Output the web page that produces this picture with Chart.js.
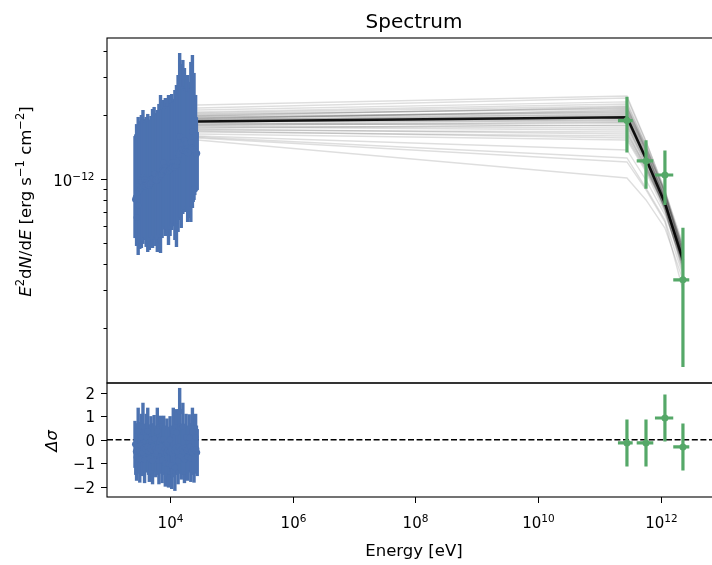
<!DOCTYPE html>
<html>
<head>
<meta charset="utf-8">
<title>Spectrum</title>
<script src="https://cdn.jsdelivr.net/npm/chart.js@4.4.0/dist/chart.umd.min.js"></script>
<style>
  html, body { margin: 0; padding: 0; background: #fff; overflow: hidden; }
  #wrap { position: relative; width: 712px; height: 565px; overflow: hidden; }
  #wrap canvas { position: absolute; left: 0; top: 0; }
</style>
</head>
<body>
<div id="wrap">
  <canvas id="sedChart" width="730" height="565"></canvas>
  <canvas id="resChart" width="730" height="565"></canvas>
</div>
<script>
// Fluxes below are in units of 1e-12 erg s^-1 cm^-2, energies in eV
const FLUX_UNIT = 1e-12;

// X-ray spectrum (two interleaved sets of channels)
const xrayEnergy = [2692, 2858, 3034, 3221, 3420, 3631, 3855, 4093, 4345, 4613,
    4898, 5200, 5521, 5861, 6223, 6607, 7015, 7447, 7907, 8395,
    8913, 9462, 10046, 10666, 11324, 12023, 12764, 13552, 14388, 15276,
    16218, 17219, 18281, 19409, 20606, 21878, 23227, 24660, 26182, 27797,
    2773, 2944, 3126, 3319, 3524, 3741, 3972, 4217, 4477, 4753,
    5047, 5358, 5689, 6039, 6412, 6808, 7228, 7674, 8147, 8650,
    9183, 9750, 10351, 10990, 11668, 12388, 13152, 13964, 14825, 15740,
    16711, 17742, 18836, 19999, 21232, 22542, 23933, 25410, 26977];
const xrayFlux = [0.80, 0.66, 0.75, 0.937, 0.974, 1.022, 0.994, 0.968, 0.958, 0.932,
    0.995, 1.005, 1.061, 0.994, 0.979, 1.056, 1.056, 1.096, 1.195, 1.138,
    1.126, 1.102, 1.126, 1.202, 1.202, 1.163, 1.151, 1.317, 1.583, 1.429,
    1.575, 1.524, 1.468, 1.390, 1.368, 1.492, 1.671, 0.90, 1.60, 1.32,
    0.82, 0.86, 0.88, 0.90, 0.92, 0.93, 0.92, 0.94, 0.93, 0.95,
    0.97, 1.00, 0.99, 0.98, 1.01, 1.03, 1.05, 1.08, 1.10, 1.09,
    1.08, 1.10, 1.12, 1.14, 1.13, 1.15, 1.20, 1.30, 1.35, 1.38,
    1.36, 1.35, 1.33, 1.32, 1.36, 1.40, 1.38, 1.35, 1.30];
const xrayLow = [0.528, 0.4846, 0.4396, 0.469, 0.4744, 0.4955, 0.517, 0.4796, 0.4542, 0.4642,
    0.501, 0.4744, 0.517, 0.4846, 0.4542, 0.4955, 0.4493, 0.528, 0.608, 0.540,
    0.5638, 0.490, 0.540, 0.5762, 0.608, 0.517, 0.4796, 0.5638, 0.642, 0.5888,
    0.685, 0.700, 0.739, 0.628, 0.656, 0.628, 0.731, 0.797, 0.869, 0.888,
    0.53, 0.50, 0.50, 0.52, 0.51, 0.53, 0.52, 0.50, 0.51, 0.53,
    0.52, 0.54, 0.53, 0.52, 0.54, 0.53, 0.55, 0.58, 0.60, 0.58,
    0.57, 0.58, 0.60, 0.62, 0.60, 0.58, 0.62, 0.66, 0.66, 0.70,
    0.72, 0.74, 0.70, 0.68, 0.70, 0.74, 0.78, 0.84, 0.88];
const xrayHigh = [1.59, 1.81, 1.955, 1.873, 1.998, 2.108, 1.913, 1.955, 2.020, 1.873,
    1.976, 2.131, 2.178, 2.041, 2.108, 2.250, 2.480, 2.275, 2.349, 2.400,
    2.250, 2.480, 2.349, 2.507, 2.375, 2.617, 2.763, 3.077, 3.904, 3.467,
    3.620, 3.320, 2.916, 3.077, 2.854, 3.543, 3.821, 3.146, 2.480, 1.662,
    1.62, 1.75, 1.80, 1.85, 1.90, 1.88, 1.85, 1.92, 1.86, 1.90,
    1.95, 2.02, 1.98, 2.00, 2.05, 2.10, 2.12, 2.15, 2.20, 2.15,
    2.18, 2.20, 2.25, 2.28, 2.30, 2.35, 2.45, 2.60, 2.70, 2.72,
    2.65, 2.60, 2.58, 2.55, 2.65, 2.70, 2.55, 2.30, 1.95];
const xrayResidual = [-0.2, -0.75, 0.36, -0.83, 0.1, 0.57, -0.85, 0.1, 0.36, -0.8,
    0.0, -0.9, 0.05, -0.6, 0.36, -0.9, 0.02, -0.85, 0.02, -1.0,
    -0.1, -1.04, 0.0, -1.1, 0.36, -1.18, 0.3, -0.9, 1.2, -0.7,
    0.57, -0.85, 0.1, -0.75, 0.08, -0.8, 0.36, -0.83, 0.1, -0.55,
    -0.5, -0.3, -0.45, -0.25, -0.55, -0.35, -0.4, -0.3, -0.5, -0.35,
    -0.45, -0.3, -0.4, -0.5, -0.35, -0.45, -0.3, -0.5, -0.4, -0.55,
    -0.45, -0.5, -0.4, -0.6, -0.45, -0.35, -0.5, -0.3, -0.45, -0.4,
    -0.5, -0.35, -0.45, -0.4, -0.3, -0.5, -0.4, -0.45, -0.4];

// TeV gamma-ray spectrum
const gammaEnergy = [2.79e11, 5.7e11, 1.16e12, 2.28e12];
const gammaEnergyLow = [1.99e11, 4.02e11, 7.98e11, 1.585e12];
const gammaEnergyHigh = [3.46e11, 7.5e11, 1.585e12, 2.89e12];
const gammaFlux = [1.88, 1.215, 1.044, 0.336];
const gammaLow = [1.33, 0.90, 0.755, 0.131];
const gammaHigh = [2.43, 1.52, 1.36, 0.59];
const gammaResidual = [-0.14, -0.14, 0.92, -0.31];

// Maximum likelihood model and posterior samples, evaluated at the data energies
const modelEnergy = [27797, 2.79e11, 5.7e11, 1.16e12, 2.28e12];
const modelFlux = [1.862, 1.95, 1.245, 0.77, 0.417];
const sampleFlux = [
    [1.934, 2.064, 1.368, 0.841, 0.464],
    [1.813, 1.893, 1.228, 0.755, 0.4076],
    [1.998, 2.155, 1.398, 0.869, 0.474],
    [1.736, 1.793, 1.163, 0.715, 0.382],
    [1.893, 1.976, 1.269, 0.797, 0.4256],
    [2.064, 2.250, 1.429, 0.850, 0.4396],
    [1.699, 1.662, 1.126, 0.731, 0.4076],
    [1.852, 1.934, 1.282, 0.814, 0.454],
    [2.155, 2.401, 1.492, 0.888, 0.464],
    [1.774, 1.736, 1.189, 0.755, 0.4256],
    [1.913, 2.109, 1.339, 0.797, 0.4076],
    [1.627, 1.525, 1.079, 0.700, 0.3946],
    [1.976, 2.042, 1.296, 0.771, 0.3946],
    [1.872, 1.872, 1.255, 0.8055, 0.464],
    [1.793, 1.832, 1.202, 0.731, 0.3738],
    [2.042, 2.202, 1.368, 0.814, 0.4165],
    [1.681, 1.558, 1.102, 0.747, 0.4396],
    [1.955, 1.998, 1.310, 0.832, 0.4846],
    [1.832, 1.774, 1.215, 0.780, 0.435],
    [2.109, 2.300, 1.444, 0.860, 0.4444],
    [1.755, 1.699, 1.151, 0.739, 0.4165],
    [1.913, 1.955, 1.228, 0.715, 0.3658],
    [1.592, 1.368, 0.989, 0.6775, 0.4076],
    [2.020, 2.132, 1.383, 0.850, 0.474],
    [1.852, 1.913, 1.269, 0.788, 0.4256],
    [1.525, 1.011, 0.797, 0.5886, 0.3355],
    [1.558, 1.202, 0.888, 0.628, 0.3011],
    [1.893, 2.020, 1.325, 0.823, 0.4444],
    [1.717, 1.627, 1.139, 0.763, 0.454],
    [2.226, 2.454, 1.508, 0.869, 0.435],
    [1.793, 1.852, 1.228, 0.771, 0.4076],
    [1.934, 2.086, 1.354, 0.8055, 0.3904],
    [1.575, 1.255, 0.907, 0.6418, 0.3541],
    [1.872, 1.934, 1.255, 0.763, 0.3989],
    [1.976, 2.178, 1.413, 0.878, 0.4952],
    [1.662, 1.592, 1.114, 0.723, 0.3904]
];

// Axis ranges and ticks
const energyMin = 942, energyMax = 9.506e12;
const sedMin = 1.102e-13, sedMax = 4.59e-12;
const resMin = -2.44, resMax = 2.41;
const sedMajorTicks = [1e-12];
const sedMinorTicks = [2e-13, 3e-13, 4e-13, 5e-13, 6e-13, 7e-13, 8e-13, 9e-13, 2e-12, 3e-12, 4e-12];
const resTicks = [-2, -1, 0, 1, 2];
const energyTicks = [1e4, 1e6, 1e8, 1e10, 1e12];

// Page layout of the two panels (pixels)
const CW = 730, CH = 565;
const AREA = { left: 107, right: 721, top: 38, split: 383, bottom: 497 };
const FONT = '"DejaVu Sans", sans-serif';
const BLUE = '#4c72b0';
const GREEN = '#55a868';

const pts = (xs, ys, scale) => xs.map((x, i) => ({ x: x, y: ys[i] * scale }));
const scaled = arr => arr.map(v => v * FLUX_UNIT);

// Draws vertical (and optional horizontal) error bars just before the points of a dataset
const errorBars = {
    id: 'errorBars',
    beforeDatasetDraw(chart, args) {
        const ds = chart.data.datasets[args.index];
        if (!ds.yLow) return;
        const { ctx, chartArea, scales: { x, y } } = chart;
        ctx.save();
        ctx.beginPath();
        ctx.rect(chartArea.left, chartArea.top, chartArea.right - chartArea.left, chartArea.bottom - chartArea.top);
        ctx.clip();
        ctx.strokeStyle = ds.barColor;
        ctx.lineWidth = ds.barWidth;
        ds.data.forEach((p, i) => {
            const px = x.getPixelForValue(p.x);
            ctx.beginPath();
            ctx.moveTo(px, y.getPixelForValue(ds.yLow[i]));
            ctx.lineTo(px, y.getPixelForValue(ds.yHigh[i]));
            if (ds.xLow) {
                const py = y.getPixelForValue(p.y);
                ctx.moveTo(x.getPixelForValue(ds.xLow[i]), py);
                ctx.lineTo(x.getPixelForValue(ds.xHigh[i]), py);
            }
            ctx.stroke();
        });
        ctx.restore();
    }
};

// text helpers
function drawRuns(ctx, runs, cx, cy, rotate) {
    ctx.save();
    ctx.translate(cx, cy);
    if (rotate) ctx.rotate(-Math.PI / 2);
    let w = 0;
    runs.forEach(r => { ctx.font = r.font; w += ctx.measureText(r.text).width; });
    let pos = -w / 2;
    ctx.fillStyle = '#000';
    ctx.textBaseline = 'alphabetic';
    ctx.textAlign = 'left';
    runs.forEach(r => {
        ctx.font = r.font;
        ctx.fillText(r.text, pos, r.dy || 0);
        pos += ctx.measureText(r.text).width;
    });
    ctx.restore();
}

const TICK_FONT = '15px ' + FONT;
const SUP_FONT = '10.5px ' + FONT;
const LABEL_SIZE = 16.5;

function drawPow10(ctx, exp, x, baseline, align) {
    const expText = exp < 0 ? '\u2212' + Math.abs(exp) : String(exp);
    ctx.font = TICK_FONT;
    const wb = ctx.measureText('10').width;
    ctx.font = SUP_FONT;
    const we = ctx.measureText(expText).width;
    const start = align === 'right' ? x - wb - we : x - (wb + we) / 2;
    ctx.fillStyle = '#000';
    ctx.textAlign = 'left';
    ctx.textBaseline = 'alphabetic';
    ctx.font = TICK_FONT;
    ctx.fillText('10', start, baseline);
    ctx.font = SUP_FONT;
    ctx.fillText(expText, start + wb, baseline - 6.5);
}

function drawFrame(ctx, a) {
    ctx.save();
    ctx.strokeStyle = '#000';
    ctx.lineWidth = 1.1;
    ctx.strokeRect(a.left, a.top, a.right - a.left, a.bottom - a.top);
    ctx.restore();
}

function tick(ctx, x0, y0, x1, y1) {
    ctx.beginPath();
    ctx.moveTo(x0, y0);
    ctx.lineTo(x1, y1);
    ctx.stroke();
}

// Frame, ticks, title and labels of the SED panel
const sedDecor = {
    id: 'sedDecor',
    afterDraw(chart) {
        const { ctx, chartArea: a, scales: { y } } = chart;
        drawFrame(ctx, a);
        ctx.save();
        ctx.strokeStyle = '#000';
        ctx.lineWidth = 1;
        sedMinorTicks.forEach(v => {
            const py = Math.round(y.getPixelForValue(v)) + 0.5;
            tick(ctx, a.left, py, a.left - 3.5, py);
        });
        sedMajorTicks.forEach(v => {
            const py = Math.round(y.getPixelForValue(v)) + 0.5;
            tick(ctx, a.left, py, a.left - 6, py);
            drawPow10(ctx, Math.round(Math.log10(v)), a.left - 12.5, py + 6.5, 'right');
        });
        ctx.restore();

        // title
        ctx.save();
        ctx.font = '20px ' + FONT;
        ctx.fillStyle = '#000';
        ctx.textAlign = 'center';
        ctx.fillText('Spectrum', (a.left + a.right) / 2, 27.5);
        ctx.restore();

        // y label: E^2 dN/dE [erg s^-1 cm^-2]
        const reg = LABEL_SIZE + 'px ' + FONT;
        const ita = 'italic ' + LABEL_SIZE + 'px ' + FONT;
        const sup = (LABEL_SIZE * 0.7).toFixed(1) + 'px ' + FONT;
        drawRuns(ctx, [
            { text: 'E', font: ita },
            { text: '2', font: sup, dy: -7 },
            { text: 'd', font: reg },
            { text: 'N', font: ita },
            { text: '/d', font: reg },
            { text: 'E', font: ita },
            { text: ' [erg s', font: reg },
            { text: '\u22121', font: sup, dy: -7 },
            { text: ' cm', font: reg },
            { text: '\u22122', font: sup, dy: -7 },
            { text: ']', font: reg }
        ], 31, 201.5, true);
    }
};

// Frame, ticks and labels of the residual panel
const resDecor = {
    id: 'resDecor',
    afterDraw(chart) {
        const { ctx, chartArea: a, scales: { x, y } } = chart;
        drawFrame(ctx, a);
        ctx.save();
        ctx.strokeStyle = '#000';
        ctx.lineWidth = 1;
        ctx.font = TICK_FONT;
        ctx.fillStyle = '#000';
        ctx.textAlign = 'right';
        resTicks.forEach(v => {
            const py = Math.round(y.getPixelForValue(v)) + 0.5;
            tick(ctx, a.left, py, a.left - 6, py);
            ctx.fillText(v < 0 ? '\u2212' + Math.abs(v) : String(v), a.left - 12, py + 5.5);
        });
        energyTicks.forEach(v => {
            const px = Math.round(x.getPixelForValue(v)) + 0.5;
            tick(ctx, px, a.bottom, px, a.bottom + 6);
            drawPow10(ctx, Math.round(Math.log10(v)), px, 528, 'center');
        });
        ctx.restore();

        ctx.save();
        ctx.font = LABEL_SIZE + 'px ' + FONT;
        ctx.fillStyle = '#000';
        ctx.textAlign = 'center';
        ctx.fillText('Energy [eV]', (a.left + a.right) / 2, 556);
        ctx.restore();

        drawRuns(ctx, [{ text: '\u0394\u03c3', font: 'italic ' + LABEL_SIZE + 'px ' + FONT }], 56.5, 441, true);
    }
};

function initCharts() {
    if (typeof Chart === 'undefined') {
        console.error('Chart.js is not loaded');
        return;
    }

    const sampleSets = sampleFlux.map(row => ({
        data: pts(modelEnergy, row, FLUX_UNIT),
        showLine: true,
        pointRadius: 0,
        borderColor: 'rgba(0, 0, 0, 0.13)',
        borderWidth: 1.4,
        order: 5
    }));

    new Chart(document.getElementById('sedChart'), {
        type: 'scatter',
        data: {
            datasets: [
                ...sampleSets,
                {
                    data: pts(modelEnergy, modelFlux, FLUX_UNIT),
                    showLine: true,
                    pointRadius: 0,
                    borderColor: 'rgba(0, 0, 0, 0.9)',
                    borderWidth: 2.6,
                    order: 4
                },
                {
                    data: pts(xrayEnergy, xrayFlux, FLUX_UNIT),
                    yLow: scaled(xrayLow),
                    yHigh: scaled(xrayHigh),
                    barColor: BLUE,
                    barWidth: 3.4,
                    pointRadius: 3,
                    pointBorderWidth: 0,
                    pointBackgroundColor: BLUE,
                    order: 3
                },
                {
                    data: pts(gammaEnergy, gammaFlux, FLUX_UNIT),
                    yLow: scaled(gammaLow),
                    yHigh: scaled(gammaHigh),
                    xLow: gammaEnergyLow,
                    xHigh: gammaEnergyHigh,
                    barColor: GREEN,
                    barWidth: 3.2,
                    pointRadius: 3.5,
                    pointBorderWidth: 0,
                    pointBackgroundColor: GREEN,
                    order: 2
                }
            ]
        },
        options: {
            responsive: false,
            animation: false,
            events: [],
            layout: { padding: { left: AREA.left, top: AREA.top, right: CW - AREA.right, bottom: CH - AREA.split } },
            plugins: { legend: { display: false }, tooltip: { enabled: false } },
            scales: {
                x: { type: 'logarithmic', min: energyMin, max: energyMax, display: false },
                y: { type: 'logarithmic', min: sedMin, max: sedMax, display: false }
            }
        },
        plugins: [errorBars, sedDecor]
    });

    new Chart(document.getElementById('resChart'), {
        type: 'scatter',
        data: {
            datasets: [
                {
                    data: [{ x: energyMin, y: 0 }, { x: energyMax, y: 0 }],
                    showLine: true,
                    pointRadius: 0,
                    borderColor: '#000',
                    borderWidth: 1.5,
                    borderDash: [6, 2.6],
                    order: 4
                },
                {
                    data: pts(xrayEnergy, xrayResidual, 1),
                    yLow: xrayResidual.map(r => r - 1),
                    yHigh: xrayResidual.map(r => r + 1),
                    barColor: BLUE,
                    barWidth: 3.4,
                    pointRadius: 3,
                    pointBorderWidth: 0,
                    pointBackgroundColor: BLUE,
                    order: 3
                },
                {
                    data: pts(gammaEnergy, gammaResidual, 1),
                    yLow: gammaResidual.map(r => r - 1),
                    yHigh: gammaResidual.map(r => r + 1),
                    xLow: gammaEnergyLow,
                    xHigh: gammaEnergyHigh,
                    barColor: GREEN,
                    barWidth: 3.2,
                    pointRadius: 3.5,
                    pointBorderWidth: 0,
                    pointBackgroundColor: GREEN,
                    order: 2
                }
            ]
        },
        options: {
            responsive: false,
            animation: false,
            events: [],
            layout: { padding: { left: AREA.left, top: AREA.split, right: CW - AREA.right, bottom: CH - AREA.bottom } },
            plugins: { legend: { display: false }, tooltip: { enabled: false } },
            scales: {
                x: { type: 'logarithmic', min: energyMin, max: energyMax, display: false },
                y: { type: 'linear', min: resMin, max: resMax, display: false }
            }
        },
        plugins: [errorBars, resDecor]
    });
    console.log('Spectrum charts drawn');
}

document.addEventListener('DOMContentLoaded', initCharts);
</script>
</body>
</html>
